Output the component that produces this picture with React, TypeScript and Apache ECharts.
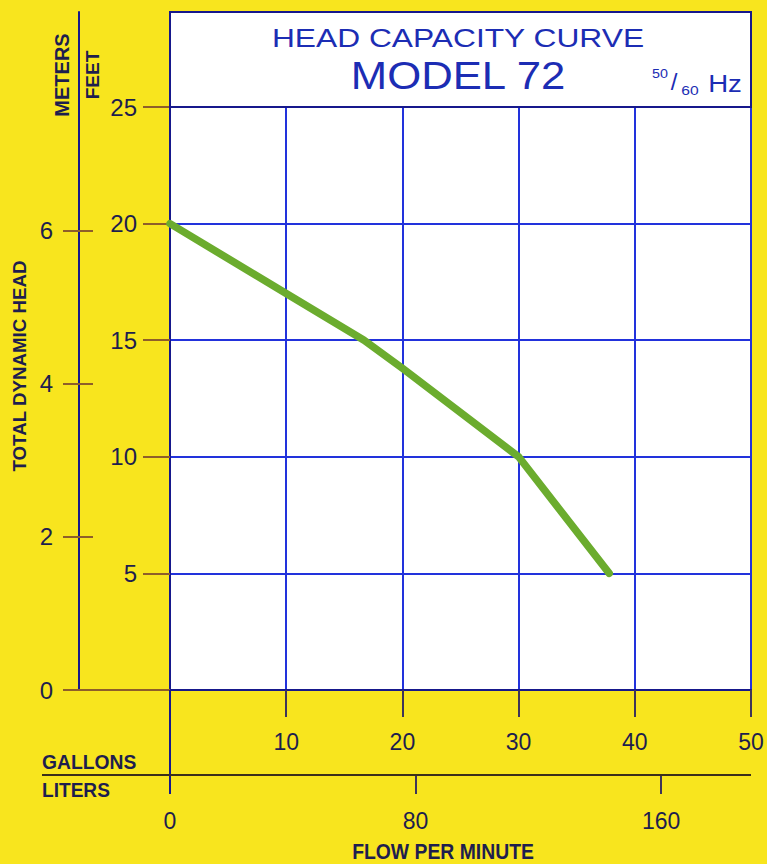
import React, { useEffect, useRef } from 'react';
import * as echarts from 'echarts';

// ---- data ----
const gallonsTicks = [10, 20, 30, 40, 50];
const litersTicks = [0, 80, 160];
const feetTicks = [5, 10, 15, 20, 25];
const metersTicks = [0, 2, 4, 6];
const flowGallons = [0, 10, 16.7, 20, 30, 37.8];
const headFeet = [20, 17, 15, 13.8, 10, 5];

const GAL_TO_L = 3.78541;
const FT_TO_M = 0.3048;

// ---- layout ----
const PLOT_L = 170;
const PLOT_T = 107;
const PLOT_W = 581;
const PLOT_H = 583;
const PLOT_B = PLOT_T + PLOT_H;
const BOX_T = 12;
const FEET_MAX = 25;
const GAL_MAX = 50;
const METERS_MAX = FEET_MAX * FT_TO_M * (PLOT_B - BOX_T) / PLOT_H;

// ---- colours ----
const YELLOW = '#F8E51E';
const GRID_BLUE = '#2232DC';
const DARK_BLUE = '#16188C';
const TITLE_BLUE = '#1C2DB4';
const LABEL = '#1E1E4E';
const BROWN = '#8E5E2A';
const TICK_DARK = '#3E3458';
const GREEN = '#6BAC2E';
const FONT = "'Liberation Sans', Arial, Helvetica, sans-serif";

function txt(text: string, x: number, y: number, o: any = {}) {
  return {
    type: 'text',
    x,
    y,
    rotation: o.rotation || 0,
    scaleX: o.scaleX || 1,
    scaleY: 1,
    z: 10,
    style: {
      text,
      fontSize: o.fontSize || 20,
      fontWeight: o.fontWeight || 'normal',
      fontFamily: FONT,
      fill: o.fill || LABEL,
      textAlign: o.align || 'center',
      align: o.align || 'center',
      textVerticalAlign: 'middle',
      verticalAlign: 'middle',
    },
  };
}

export default function App() {
  const ref = useRef<HTMLDivElement>(null);

  useEffect(() => {
    document.body.style.margin = '0';
    if (!ref.current) return;
    const chart = echarts.init(ref.current, undefined, { renderer: 'svg' });

    const labelBase = { color: LABEL, fontFamily: FONT };

    const option: any = {
      animation: false,
      backgroundColor: YELLOW,
      grid: [
        {
          left: PLOT_L, top: PLOT_T, width: PLOT_W, height: PLOT_H,
          show: true, backgroundColor: '#FFFFFF', borderColor: DARK_BLUE, borderWidth: 2,
        },
        { left: PLOT_L, top: BOX_T, width: PLOT_W, height: PLOT_B - BOX_T, show: false },
      ],
      xAxis: [
        {
          gridIndex: 0, type: 'value', min: 0, max: GAL_MAX, interval: 10, position: 'bottom',
          axisLine: { show: true, onZero: false, lineStyle: { color: DARK_BLUE, width: 2 } },
          axisTick: { show: true, length: 27, customValues: gallonsTicks, lineStyle: { color: TICK_DARK, width: 2 } },
          axisLabel: { customValues: gallonsTicks, margin: 40, fontSize: 23, ...labelBase },
          splitLine: { show: true, lineStyle: { color: GRID_BLUE, width: 2 } },
        },
        {
          gridIndex: 0, type: 'value', min: 0, max: GAL_MAX * GAL_TO_L, position: 'bottom', offset: 85,
          axisLine: { show: false, onZero: false },
          axisTick: { show: true, length: 19, customValues: litersTicks, lineStyle: { color: TICK_DARK, width: 2 } },
          axisLabel: { customValues: litersTicks, margin: 34, fontSize: 23, ...labelBase },
          splitLine: { show: false },
        },
        { gridIndex: 1, type: 'value', min: 0, max: GAL_MAX, show: false, axisLine: { onZero: false } },
      ],
      yAxis: [
        {
          gridIndex: 0, type: 'value', min: 0, max: FEET_MAX, interval: 5, position: 'left',
          axisLine: { show: true, onZero: false, lineStyle: { color: DARK_BLUE, width: 2 } },
          axisTick: { show: true, length: 27, customValues: feetTicks, lineStyle: { color: BROWN, width: 2 } },
          axisLabel: { customValues: feetTicks, margin: 33, fontSize: 24, ...labelBase },
          splitLine: { show: true, lineStyle: { color: GRID_BLUE, width: 2 } },
        },
        {
          gridIndex: 1, type: 'value', min: 0, max: METERS_MAX, position: 'left', offset: 91,
          axisLine: { show: true, onZero: false, lineStyle: { color: DARK_BLUE, width: 2 } },
          axisTick: { show: true, length: 16, customValues: metersTicks, lineStyle: { color: BROWN, width: 2 } },
          axisLabel: { customValues: metersTicks, margin: 26, fontSize: 24, ...labelBase },
          splitLine: { show: false },
        },
        {
          gridIndex: 1, type: 'value', min: 0, max: METERS_MAX, position: 'left', offset: 91,
          axisLine: { show: false, onZero: false },
          axisTick: { show: true, inside: true, length: 14, customValues: metersTicks, lineStyle: { color: BROWN, width: 2 } },
          axisLabel: { show: false },
          splitLine: { show: false },
        },
      ],
      series: [
        {
          type: 'line', xAxisIndex: 0, yAxisIndex: 0,
          data: flowGallons.map((g, i) => [g, headFeet[i]]),
          symbol: 'none', z: 5,
          lineStyle: { color: GREEN, width: 7.5, cap: 'round', join: 'round' },
        },
      ],
      graphic: [
        {
          type: 'rect', z: 1,
          shape: { x: PLOT_L, y: BOX_T, width: PLOT_W, height: PLOT_T - BOX_T },
          style: { fill: '#FFFFFF', stroke: DARK_BLUE, lineWidth: 2 },
        },
        { type: 'line', z: 2, shape: { x1: 63, y1: PLOT_B, x2: PLOT_L, y2: PLOT_B }, style: { stroke: BROWN, lineWidth: 2 } },
        { type: 'line', z: 2, shape: { x1: PLOT_L, y1: PLOT_B, x2: PLOT_L, y2: 794 }, style: { stroke: DARK_BLUE, lineWidth: 2 } },
        { type: 'line', z: 2, shape: { x1: 42, y1: 775, x2: 751, y2: 775 }, style: { stroke: '#3B2F1A', lineWidth: 2 } },
        txt('HEAD CAPACITY CURVE', 458, 38, { fontSize: 25, scaleX: 1.27, fill: TITLE_BLUE }),
        txt('MODEL 72', 458, 76, { fontSize: 38, scaleX: 1.15, fill: TITLE_BLUE }),
        txt('50', 660, 74, { fontSize: 13, scaleX: 1.1, fill: TITLE_BLUE }),
        txt('/', 674, 81, { fontSize: 24, fill: TITLE_BLUE }),
        txt('60', 690, 90, { fontSize: 13, scaleX: 1.2, fill: TITLE_BLUE }),
        txt('Hz', 725, 84, { fontSize: 24, scaleX: 1.15, fill: TITLE_BLUE }),
        txt('TOTAL DYNAMIC HEAD', 20, 366, { fontSize: 18, fontWeight: 'bold', rotation: Math.PI / 2, scaleX: 1.04 }),
        txt('METERS', 62, 75, { fontSize: 20, fontWeight: 'bold', rotation: Math.PI / 2 }),
        txt('FEET', 92, 75, { fontSize: 19, fontWeight: 'bold', rotation: Math.PI / 2 }),
        txt('GALLONS', 42, 762, { fontSize: 21, fontWeight: 'bold', scaleX: 0.92, align: 'left' }),
        txt('LITERS', 42, 790, { fontSize: 21, fontWeight: 'bold', scaleX: 0.91, align: 'left' }),
        txt('FLOW PER MINUTE', 443, 851, { fontSize: 22, fontWeight: 'bold', scaleX: 0.88 }),
      ],
    };

    chart.setOption(option);
    return () => chart.dispose();
  }, []);

  return <div ref={ref} style={{ width: 767, height: 864 }} />;
}
